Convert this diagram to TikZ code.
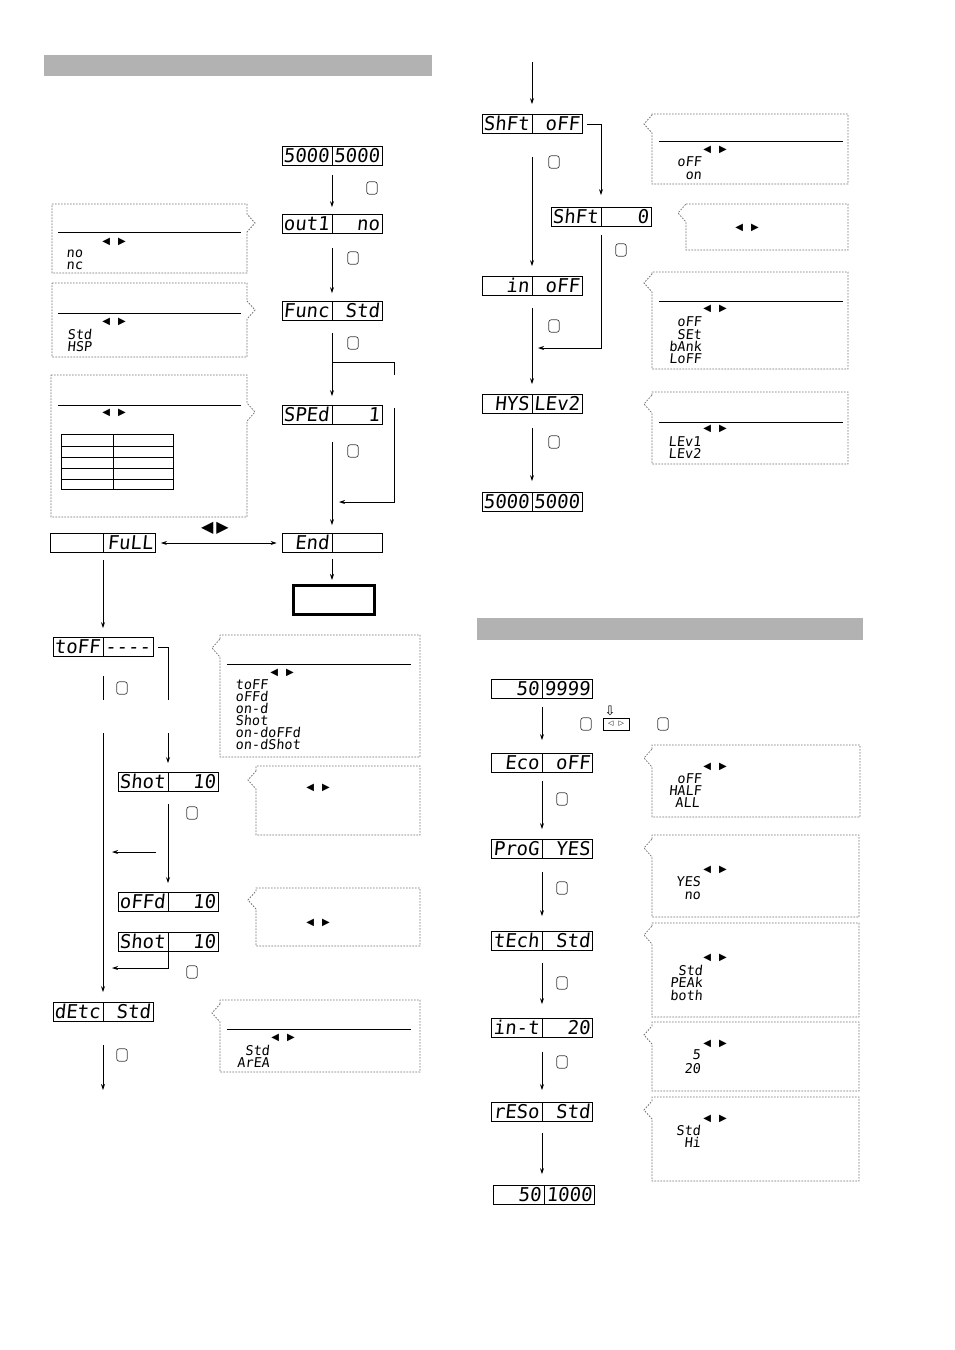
\documentclass[tikz,border=0pt]{standalone}
\usepackage{fontspec}
\newfontfamily\seg[FakeSlant=0.1]{DejaVu Sans Mono}
\newfontfamily\dv{DejaVu Sans}
\usetikzlibrary{arrows.meta}
\tikzset{
  dispbox/.style={draw, line width=0.9pt, minimum height=19pt, inner sep=0pt},
  segtxt/.style={font=\fontsize{19}{19}\seg, inner sep=0pt, text height=13.9pt, text depth=0pt},
  listtxt/.style={font=\fontsize{13.5}{13.5}\seg, inner sep=0pt, text height=9.8pt, text depth=0pt},
  arr/.style={-{Stealth[length=6pt,width=4pt]}},
  darr/.style={{Stealth[length=6pt,width=4pt]}-{Stealth[length=6pt,width=4pt]}},
  dotbox/.style={draw=black!55, dash pattern=on 1.6pt off 1.4pt, line width=0.8pt},
  btn/.style={draw=black!75, rounded corners=2.5pt, minimum width=10.5pt, minimum height=12.5pt, inner sep=0pt, line width=0.7pt},
  lrtxt/.style={font=\fontsize{10}{10}\dv, inner sep=0pt},
}
\newcommand\disp[6]{%
  \node[dispbox, minimum width=#4pt] (#1) at (#2,#3) {};
  \draw[line width=0.9pt] (#1.north) -- (#1.south);
  \node[segtxt, anchor=east] (#1l) at ([xshift=-2.5pt]#1.center) {#5};
  \node[segtxt, anchor=east] (#1r) at ([xshift=-2.5pt]#1.east) {#6};
}
\newcommand\calR[5]{\draw[dotbox] (#1,#2) -- (#3,#2) -- (#3,#5-9) -- (#3+8,#5) -- (#3,#5+9) -- (#3,#4) -- (#1,#4) -- cycle;}
\newcommand\calL[5]{\draw[dotbox] (#1,#5-9) -- (#1,#2) -- (#3,#2) -- (#3,#4) -- (#1,#4) -- (#1,#5+9) -- (#1-8,#5) -- cycle;}
\newcommand\lrpair[3]{\node[lrtxt] (#1) at (#2,#3) {◀\hspace{8pt}▶};}
\begin{document}
\begin{tikzpicture}[x=1pt,y=-1pt,line width=0.8pt]
\useasboundingbox[fill=white] (0,0) rectangle (954,1350);

% header bars
\fill[black!30] (44,55) rectangle (432,76);
\fill[black!30] (477,618) rectangle (863,640);

% ---------------- left part ----------------
\disp{sfa}{332}{156}{100}{5000}{5000}
\disp{out}{332}{224}{100}{out1}{no}
\disp{func}{332}{311}{100}{Func}{Std}
\disp{sped}{332}{415}{100}{SPEd}{1}
\disp{endd}{332}{543}{100}{End}{}
\disp{full}{103}{543}{105}{}{FuLL}
\node[draw, line width=3pt, minimum width=81pt, minimum height=29pt, inner sep=0pt] (fin) at (334,600) {};

\disp{toff}{103}{647}{100}{toFF}{----}
\disp{shot}{168}{782}{100}{Shot}{10}
\disp{offd}{168}{902}{100}{oFFd}{10}
\disp{shotb}{168}{942}{100}{Shot}{10}
\disp{detc}{103}{1012}{100}{dEtc}{Std}

% buttons left
\node[btn] (k1) at (372,188) {};
\node[btn] (k2) at (353,258) {};
\node[btn] (k3) at (353,343) {};
\node[btn] (k4) at (353,451) {};
\node[btn] (k5) at (122,688) {};
\node[btn] (k6) at (192,813) {};
\node[btn] (k7) at (192,972) {};
\node[btn] (k8) at (122,1055) {};

% connectors left
\draw[arr, shorten <=9pt, shorten >=7pt] (sfa) -- (out);
\draw[arr, shorten <=14pt, shorten >=8pt] (out) -- (func);
\draw[arr, shorten <=12pt, shorten >=9pt] (func) -- (sped);
\coordinate (b1) at (332,362);
\coordinate (b2) at (394,375);
\coordinate (b3) at (394,408);
\coordinate (b4) at (339,502);
\draw (b1) -| (b2);
\draw[arr] (b3) |- (b4);
\draw[arr, shorten <=17pt, shorten >=8pt] (sped) -- (endd);
\draw[arr, shorten <=6pt, shorten >=4pt] (endd.south) -- (endd.south |- fin.north);
\draw[darr, shorten <=5pt, shorten >=5pt] (full) -- (endd);
\node[font=\fontsize{16}{16}\dv, inner sep=0pt] (lrbig) at (215,528) {◀\hspace{3pt}▶};
\draw[arr, shorten <=7pt, shorten >=9pt] (full) -- (toff);

\coordinate (t2) at (168,700);
\coordinate (t3) at (168,733);
\draw ([xshift=5pt]toff.east) -| (t2);
\draw[arr, shorten >=9pt] (t3) -- (shot);
\coordinate (t5) at (103,700);
\coordinate (t6) at (103,733);
\draw[shorten <=19pt] (toff) -- (t5);
\draw[arr, shorten >=10pt] (t6) -- (detc);
\draw[arr, shorten <=12pt, shorten >=9pt] (shot) -- (offd);
\coordinate (j1a) at (156,852);
\coordinate (j1b) at (112,852);
\draw[arr] (j1a) -- (j1b);
\coordinate (j2) at (112,968);
\draw[arr] (shotb.south) |- (j2);
\coordinate (d1) at (103,1090);
\draw[arr, shorten <=23pt] (detc) -- (d1);

% callouts left column
\calR{52}{204}{247}{273}{223}
\draw (58,232) -- (241,232);
\lrpair{lra}{114}{242}
\node[listtxt, anchor=west] (a1) at (66,253) {no};
\node[listtxt, anchor=west] (a2) at (66,265) {nc};

\calR{52}{283}{247}{357}{310}
\draw (58,313) -- (241,313);
\lrpair{lrb}{114}{322}
\node[listtxt, anchor=west] (b5) at (67,335) {Std};
\node[listtxt, anchor=west] (b6) at (67,347) {HSP};

\calR{51}{375}{247}{517}{412}
\draw (58,405) -- (241,405);
\lrpair{lrc}{114}{413}
\draw (61,434) rectangle (173,489);
\draw (113,434) -- (113,489);
\foreach \yy in {446,457,468,479} \draw (61,\yy) -- (173,\yy);

\calL{220}{635}{420}{757}{648}
\draw (227,664) -- (411,664);
\lrpair{lrd}{282}{673}
\node[listtxt, anchor=west] (dd1) at (235,685) {toFF};
\node[listtxt, anchor=west] (dd2) at (235,697) {oFFd};
\node[listtxt, anchor=west] (dd3) at (235,709) {on-d};
\node[listtxt, anchor=west] (dd4) at (235,721) {Shot};
\node[listtxt, anchor=west] (dd5) at (235,733) {on-doFFd};
\node[listtxt, anchor=west] (dd6) at (235,745) {on-dShot};

\calL{256}{766}{420}{835}{780}
\lrpair{lre}{318}{788}

\calL{256}{888}{420}{946}{900}
\lrpair{lrf}{318}{923}

\calL{220}{1000}{420}{1072}{1013}
\draw (227,1029) -- (411,1029);
\lrpair{lrg}{283}{1038}
\node[listtxt, anchor=east] (g1) at (270,1051) {Std};
\node[listtxt, anchor=east] (g2) at (270,1063) {ArEA};

% ---------------- right part (top) ----------------
\disp{shft}{532}{124}{100}{ShFt}{oFF}
\disp{shftz}{601}{217}{100}{ShFt}{0}
\disp{inn}{532}{286}{100}{in}{oFF}
\disp{hys}{532}{404}{100}{HYS}{LEv2}
\disp{sfb}{532}{502}{100}{5000}{5000}

\node[btn] (k9) at (554,162) {};
\node[btn] (k10) at (621,250) {};
\node[btn] (k11) at (554,326) {};
\node[btn] (k12) at (554,442) {};

\coordinate (top) at (532,62);
\draw[arr, shorten >=10pt] (top) -- (shft);
\draw[arr, shorten >=12pt] ([xshift=5pt]shft.east) -| (shftz.north);
\draw[arr, shorten <=23pt, shorten >=10pt] (shft) -- (inn);
\coordinate (c1) at (538,348);
\draw[arr, shorten <=8pt] (shftz.south) |- (c1);
\draw[arr, shorten <=12pt, shorten >=10pt] (inn) -- (hys);
\draw[arr, shorten <=14pt, shorten >=11pt] (hys) -- (sfb);

\calL{652}{114}{848}{184}{124}
\draw (659,141) -- (843,141);
\lrpair{lrh}{715}{150}
\node[listtxt, anchor=east] (h1) at (702,162) {oFF};
\node[listtxt, anchor=east] (h2) at (702,175) {on};

\calL{686}{204}{848}{250}{213}
\lrpair{lri}{747}{228}

\calL{652}{272}{848}{369}{283}
\draw (659,301) -- (843,301);
\lrpair{lrj}{715}{309}
\node[listtxt, anchor=east] (j3) at (702,322) {oFF};
\node[listtxt, anchor=east] (j4) at (702,335) {SEt};
\node[listtxt, anchor=east] (j5) at (702,347) {bAnk};
\node[listtxt, anchor=east] (j6) at (702,359) {LoFF};

\calL{652}{392}{848}{464}{404}
\draw (659,422) -- (843,422);
\lrpair{lrk}{715}{429}
\node[listtxt, anchor=west] (k13) at (668,442) {LEv1};
\node[listtxt, anchor=west] (k14) at (668,454) {LEv2};

% ---------------- right part (bottom) ----------------
\disp{sfc}{542}{689}{101}{50}{9999}
\disp{eco}{542}{763}{101}{Eco}{oFF}
\disp{prog}{542}{849}{101}{ProG}{YES}
\disp{tech}{542}{941}{101}{tEch}{Std}
\disp{intt}{542}{1028}{101}{in-t}{20}
\disp{reso}{542}{1112}{101}{rESo}{Std}
\disp{sfd}{544}{1195}{101}{50}{1000}

\node[btn] (m1) at (586,724) {};
\node[draw, line width=0.7pt, minimum width=26pt, minimum height=12pt, inner sep=0pt, font=\fontsize{7}{7}\dv] (sel) at (616,724) {◁\hspace{5pt}▷};
\node[font=\fontsize{13}{13}\dv, inner sep=0pt] (selar) at (610,711) {⇩};
\node[btn] (m2) at (663,724) {};
\node[btn] (m3) at (562,799) {};
\node[btn] (m4) at (562,888) {};
\node[btn] (m5) at (562,983) {};
\node[btn] (m6) at (562,1062) {};

\draw[arr, shorten <=8pt, shorten >=13pt] (sfc) -- (eco);
\draw[arr, shorten <=8pt, shorten >=10pt] (eco) -- (prog);
\draw[arr, shorten <=13pt, shorten >=15pt] (prog) -- (tech);
\draw[arr, shorten <=12pt, shorten >=14pt] (tech) -- (intt);
\draw[arr, shorten <=14pt, shorten >=12pt] (intt) -- (reso);
\draw[arr, shorten <=11pt, shorten >=11pt] (reso.south) -- (reso.south |- sfd.north);

\calL{652}{745}{860}{817}{758}
\lrpair{lrl}{715}{767}
\node[listtxt, anchor=east] (l1) at (702,779) {oFF};
\node[listtxt, anchor=east] (l2) at (702,791) {HALF};
\node[listtxt, anchor=east] (l3) at (700,803) {ALL};

\calL{652}{835}{859}{917}{848}
\lrpair{lrm}{715}{870}
\node[listtxt, anchor=east] (mm1) at (701,882) {YES};
\node[listtxt, anchor=east] (mm2) at (701,895) {no};

\calL{652}{923}{859}{1017}{935}
\lrpair{lrn}{715}{958}
\node[listtxt, anchor=east] (n1) at (703,971) {Std};
\node[listtxt, anchor=east] (n2) at (703,983) {PEAk};
\node[listtxt, anchor=east] (n3) at (703,996) {both};

\calL{652}{1022}{859}{1091}{1035}
\lrpair{lro}{715}{1044}
\node[listtxt, anchor=east] (o1) at (701,1055) {5};
\node[listtxt, anchor=east] (o2) at (701,1069) {20};

\calL{652}{1097}{859}{1181}{1110}
\lrpair{lrp}{715}{1119}
\node[listtxt, anchor=east] (p1) at (701,1131) {Std};
\node[listtxt, anchor=east] (p2) at (701,1143) {Hi};
\end{tikzpicture}
\end{document}
